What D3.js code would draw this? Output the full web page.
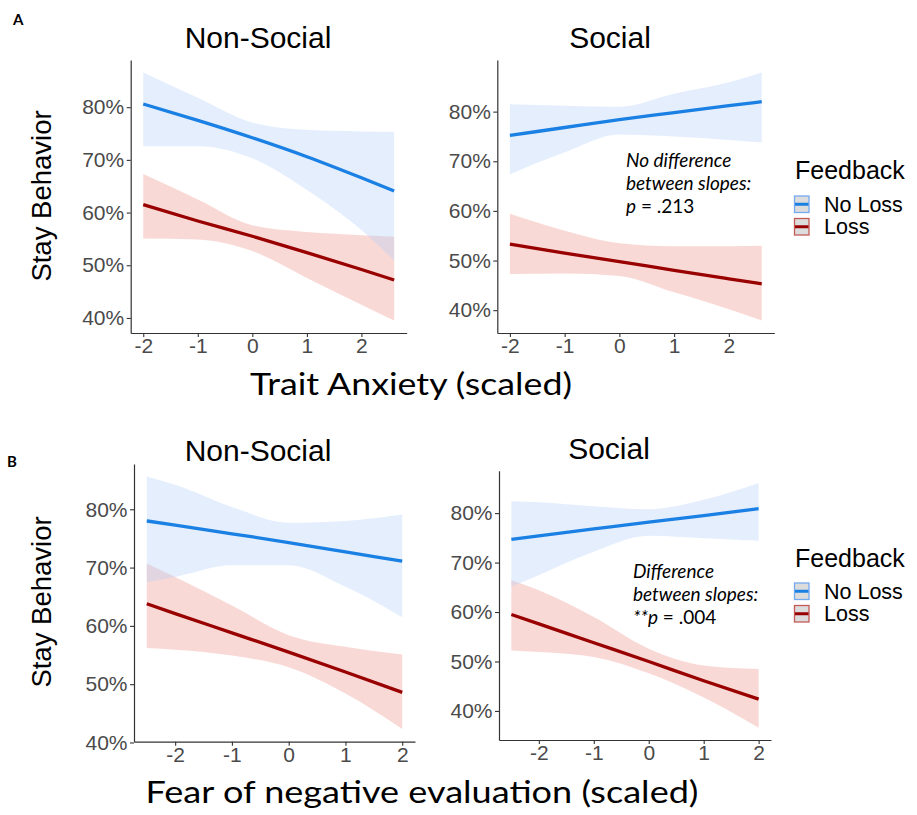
<!DOCTYPE html>
<html>
<head>
<meta charset="utf-8">
<script src="https://cdn.jsdelivr.net/npm/d3@7"></script>
<style>
  html, body { margin: 0; padding: 0; background: #fff; }
  svg { display: block; }
</style>
</head>
<body>
<svg id="chart" width="917" height="815"></svg>
<script>
// ---- data (stay probability in %, model fit with 95% CI) ----
const feedbackLevels = ["No Loss", "Loss"];
const facets = ["Non-Social", "Social"];
const yTickValues = [40, 50, 60, 70, 80];
const xTickValues = [-2, -1, 0, 1, 2];

// Row A: Trait Anxiety (scaled)
const traitX = [-2, -1, 0, 1, 2, 2.6];
const traitNonSocialNoLossFit = [80.6, 77.5, 74.2, 70.6, 66.6, 64.1];
const traitNonSocialNoLossLo  = [72.6, 72.6, 70.3, 64.3, 56.7, 50.9];
const traitNonSocialNoLossHi  = [86.6, 81.8, 77.1, 75.7, 75.4, 75.3];
const traitNonSocialLossFit   = [61.5, 58.4, 55.5, 52.4, 49.2, 47.2];
const traitNonSocialLossLo    = [55.1, 54.9, 52.7, 47.6, 42.5, 39.5];
const traitNonSocialLossHi    = [67.3, 62.5, 57.6, 56.3, 55.7, 55.4];

const traitSocialNoLossFit = [75.2, 76.8, 78.4, 79.8, 81.2, 82.0];
const traitSocialNoLossLo  = [67.4, 71.8, 75.4, 75.0, 74.3, 73.8];
const traitSocialNoLossHi  = [81.5, 81.2, 81.0, 83.6, 85.9, 87.9];
const traitSocialLossFit   = [53.3, 51.5, 49.8, 48.0, 46.3, 45.3];
const traitSocialLossLo    = [47.3, 47.4, 46.9, 43.6, 40.2, 37.9];
const traitSocialLossHi    = [59.4, 56.0, 53.5, 52.9, 52.9, 53.0];

// Row B: Fear of negative evaluation (scaled)
const fneX = [-2.5, -2, -1, 0, 1, 2];
const fneNonSocialNoLossFit = [78.0, 77.3, 75.8, 74.3, 72.7, 71.1];
const fneNonSocialNoLossLo  = [67.5, 68.4, 70.4, 70.4, 66.7, 61.5];
const fneNonSocialNoLossHi  = [85.6, 84.2, 80.4, 77.7, 78.0, 79.1];
const fneNonSocialLossFit   = [63.8, 62.1, 58.8, 55.5, 52.1, 48.6];
const fneNonSocialLossLo    = [56.2, 55.9, 54.9, 52.9, 48.4, 42.3];
const fneNonSocialLossHi    = [70.7, 68.4, 63.5, 58.4, 56.4, 55.1];

const fneSocialNoLossFit = [74.7, 75.4, 76.8, 78.2, 79.5, 80.9];
const fneSocialNoLossLo  = [65.1, 67.5, 72.2, 75.4, 74.9, 74.4];
const fneSocialNoLossHi  = [82.4, 82.2, 81.4, 80.8, 82.7, 86.1];
const fneSocialLossFit   = [59.5, 57.6, 53.8, 50.0, 46.1, 42.4];
const fneSocialLossLo    = [52.2, 51.9, 50.9, 47.6, 42.7, 36.6];
const fneSocialLossHi    = [66.4, 64.4, 59.0, 52.6, 49.2, 48.5];

// ---- styling ----
const lineColor = { "No Loss": "#1a80e3", "Loss": "#990000" };
const bandColor = { "No Loss": "#b4cdfa", "Loss": "#eb8278" };
const keyBorder = { "No Loss": "#74aaf0", "Loss": "#c55a55" };
const sans = "'Liberation Sans', Arial, sans-serif";
const humanist = "Lato, 'Open Sans', sans-serif";

const svg = d3.select("#chart");

function series(xs, fit, lo, hi) {
  return xs.map((x, i) => ({ x, fit: fit[i], lo: lo[i], hi: hi[i] }));
}

// ggplot-style 5% expansion of a numeric range
function expanded(values) {
  const [a, b] = d3.extent(values);
  const pad = (b - a) * 0.05;
  return [a - pad, b + pad];
}

const panels = [
  { facet: facets[0], box: { x0: 130.7, x1: 406.7, y0: 60, y1: 333 }, xs: traitX,
    groups: {
      "No Loss": series(traitX, traitNonSocialNoLossFit, traitNonSocialNoLossLo, traitNonSocialNoLossHi),
      "Loss": series(traitX, traitNonSocialLossFit, traitNonSocialLossLo, traitNonSocialLossHi) } },
  { facet: facets[1], box: { x0: 497.3, x1: 774.3, y0: 60, y1: 333 }, xs: traitX,
    groups: {
      "No Loss": series(traitX, traitSocialNoLossFit, traitSocialNoLossLo, traitSocialNoLossHi),
      "Loss": series(traitX, traitSocialLossFit, traitSocialLossLo, traitSocialLossHi) } },
  { facet: facets[0], box: { x0: 134, x1: 415, y0: 464, y1: 741.7 }, xs: fneX,
    groups: {
      "No Loss": series(fneX, fneNonSocialNoLossFit, fneNonSocialNoLossLo, fneNonSocialNoLossHi),
      "Loss": series(fneX, fneNonSocialLossFit, fneNonSocialLossLo, fneNonSocialLossHi) } },
  { facet: facets[1], box: { x0: 499, x1: 771, y0: 470.7, y1: 740 }, xs: fneX,
    groups: {
      "No Loss": series(fneX, fneSocialNoLossFit, fneSocialNoLossLo, fneSocialNoLossHi),
      "Loss": series(fneX, fneSocialLossFit, fneSocialLossLo, fneSocialLossHi) } }
];

panels.forEach(p => {
  const b = p.box;
  const allY = [];
  feedbackLevels.forEach(k => p.groups[k].forEach(d => allY.push(d.lo, d.hi)));
  const x = d3.scaleLinear().domain(expanded(p.xs)).range([b.x0, b.x1]);
  const y = d3.scaleLinear().domain(expanded(allY)).range([b.y1, b.y0]);
  const g = svg.append("g");

  // confidence bands (Loss first, No Loss drawn over it)
  ["Loss", "No Loss"].forEach(k => {
    const area = d3.area().curve(d3.curveMonotoneX)
      .x(d => x(d.x)).y0(d => y(d.lo)).y1(d => y(d.hi));
    g.append("path").datum(p.groups[k])
      .attr("d", area)
      .attr("fill", bandColor[k])
      .attr("fill-opacity", k === "No Loss" ? 0.35 : 0.3);
  });

  // fitted lines
  ["Loss", "No Loss"].forEach(k => {
    const line = d3.line().curve(d3.curveMonotoneX)
      .x(d => x(d.x)).y(d => y(d.fit));
    g.append("path").datum(p.groups[k])
      .attr("d", line)
      .attr("fill", "none")
      .attr("stroke", lineColor[k])
      .attr("stroke-width", 3.3);
  });

  // axes
  const yAxis = d3.axisLeft(y).tickValues(yTickValues)
    .tickFormat(d => d + "%").tickSize(4).tickSizeOuter(0).tickPadding(2.5);
  const xAxis = d3.axisBottom(x).tickValues(xTickValues)
    .tickFormat(d => String(d)).tickSize(4).tickSizeOuter(0).tickPadding(1.5);

  const ya = g.append("g").attr("transform", `translate(${b.x0},0)`).call(yAxis);
  const xa = g.append("g").attr("transform", `translate(0,${b.y1})`).call(xAxis);
  [ya, xa].forEach(a => {
    a.select(".domain").attr("stroke", "#333").attr("stroke-width", 1.2);
    a.selectAll(".tick line").attr("stroke", "#333").attr("stroke-width", 1.1);
    a.selectAll(".tick text").attr("fill", "#4a4a4a")
      .style("font-family", sans).style("font-size", "21px");
  });
});

// facet titles
const facetTitles = [
  { text: facets[0], x: 258, y: 48 }, { text: facets[1], x: 610, y: 48 },
  { text: facets[0], x: 258, y: 461 }, { text: facets[1], x: 609, y: 459 }
];
svg.selectAll("text.facet").data(facetTitles).enter().append("text")
  .attr("class", "facet")
  .attr("x", d => d.x).attr("y", d => d.y)
  .attr("text-anchor", "middle")
  .style("font-family", sans).style("font-size", "30px").attr("fill", "#000")
  .text(d => d.text);

// y axis titles
[{ x: 51, y: 196 }, { x: 51, y: 602 }].forEach(pos => {
  svg.append("text")
    .attr("transform", `translate(${pos.x},${pos.y}) rotate(-90)`)
    .attr("text-anchor", "middle")
    .style("font-family", sans).style("font-size", "27.5px").attr("fill", "#000")
    .text("Stay Behavior");
});

// x axis titles
svg.append("text").attr("x", 411).attr("y", 395).attr("text-anchor", "middle")
  .style("font-family", humanist).style("font-size", "31px").attr("fill", "#000")
  .attr("textLength", 322).attr("lengthAdjust", "spacingAndGlyphs")
  .text("Trait Anxiety (scaled)");
svg.append("text").attr("x", 422).attr("y", 803).attr("text-anchor", "middle")
  .style("font-family", humanist).style("font-size", "31px").attr("fill", "#000")
  .attr("textLength", 553).attr("lengthAdjust", "spacingAndGlyphs")
  .text("Fear of negative evaluation (scaled)");

// row letters
svg.append("text").attr("x", 13).attr("y", 25)
  .style("font-family", humanist).style("font-size", "15px").style("font-weight", "bold")
  .text("A");
svg.append("text").attr("x", 7).attr("y", 467)
  .style("font-family", humanist).style("font-size", "15px").style("font-weight", "bold")
  .text("B");

// slope-comparison notes
function note(x, y0, lines) {
  const t = svg.append("g").style("font-family", humanist).style("font-size", "19px")
    .attr("fill", "#000");
  lines.forEach((parts, i) => {
    const txt = t.append("text").attr("x", x).attr("y", y0 + i * 23);
    parts.forEach(([s, italic]) => {
      txt.append("tspan").style("font-style", italic ? "italic" : "normal").text(s);
    });
  });
}
note(626, 167, [
  [["No difference", true]],
  [["between slopes:", true]],
  [["p", true], [" = .213", false]]
]);
note(633, 578, [
  [["Difference", true]],
  [["between slopes:", true]],
  [["**p", true], [" = .004", false]]
]);

// legends
function legend(titleY, keyY) {
  const lg = svg.append("g");
  lg.append("text").attr("x", 795).attr("y", titleY)
    .style("font-family", sans).style("font-size", "25px").attr("fill", "#000")
    .text("Feedback");
  feedbackLevels.forEach((k, i) => {
    const ky = keyY + i * 22.5;
    lg.append("rect").attr("x", 794.5).attr("y", ky).attr("width", 14.5).attr("height", 16.5)
      .attr("fill", "#dcdcdc").attr("stroke", keyBorder[k]).attr("stroke-width", 1.3);
    lg.append("line").attr("x1", 795).attr("x2", 808.5)
      .attr("y1", ky + 8.25).attr("y2", ky + 8.25)
      .attr("stroke", lineColor[k]).attr("stroke-width", 3);
    lg.append("text").attr("x", 824).attr("y", ky + 15.5)
      .style("font-family", sans).style("font-size", "21.5px").attr("fill", "#000")
      .text(k);
  });
}
legend(179, 196);
legend(567, 583);
</script>
</body>
</html>
